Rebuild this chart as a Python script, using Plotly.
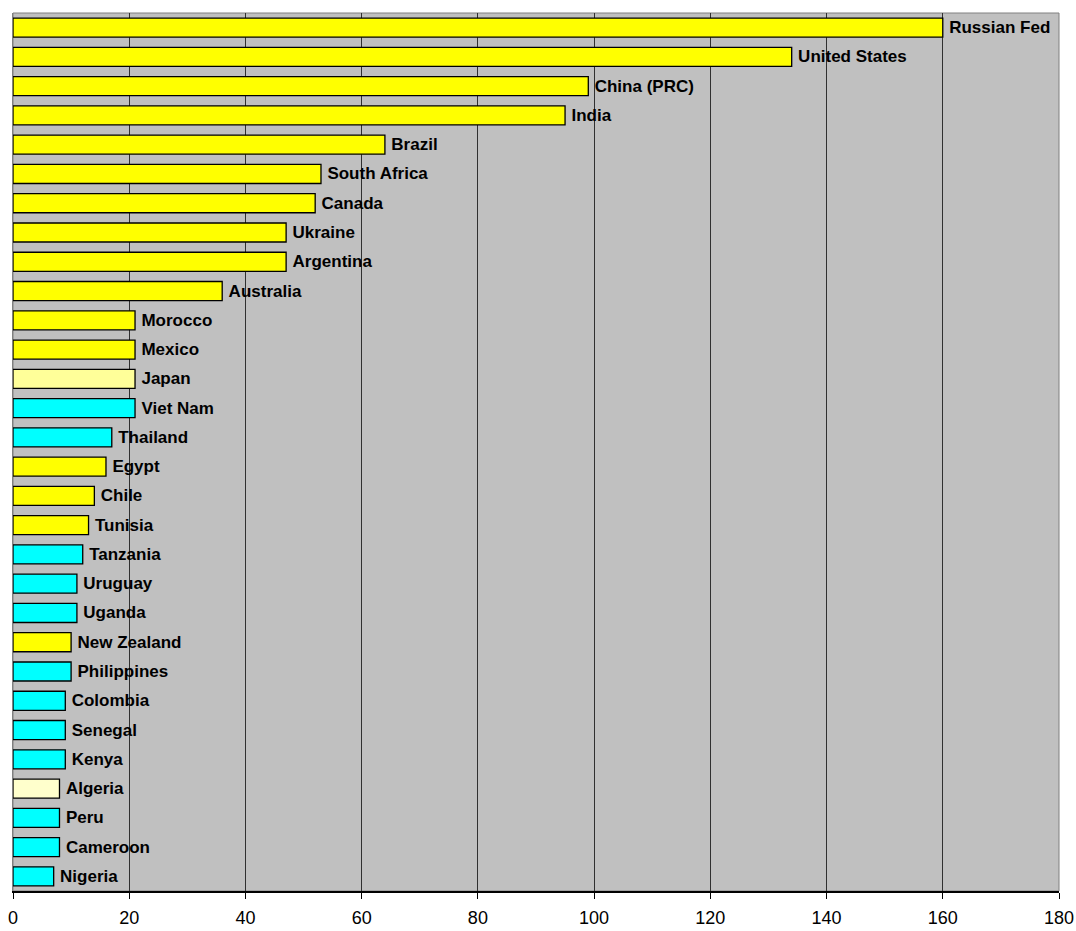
import plotly.graph_objects as go

countries = ["Russian Fed", "United States", "China (PRC)", "India", "Brazil", "South Africa",
             "Canada", "Ukraine", "Argentina", "Australia", "Morocco", "Mexico", "Japan",
             "Viet Nam", "Thailand", "Egypt", "Chile", "Tunisia", "Tanzania", "Uruguay",
             "Uganda", "New Zealand", "Philippines", "Colombia", "Senegal", "Kenya",
             "Algeria", "Peru", "Cameroon", "Nigeria"]
values = [160, 134, 99, 95, 64, 53, 52, 47, 47, 36, 21, 21, 21, 21, 17, 16, 14, 13, 12, 11,
          11, 10, 10, 9, 9, 9, 8, 8, 8, 7]
groups = ["Y", "Y", "Y", "Y", "Y", "Y", "Y", "Y", "Y", "Y", "Y", "Y", "L", "C", "C", "Y", "Y",
          "Y", "C", "C", "C", "Y", "C", "C", "C", "C", "P", "C", "C", "C"]
group_colors = {"Y": "#FFFF00", "L": "#FFFF99", "P": "#FFFFCC", "C": "#00FFFF"}
x_ticks = [0, 20, 40, 60, 80, 100, 120, 140, 160, 180]

fig = go.Figure(go.Bar(
    x=values,
    y=countries,
    orientation="h",
    marker=dict(color=[group_colors[g] for g in groups], line=dict(color="#000000", width=1.3)),
    text=countries,
    texttemplate="\u2009%{text}",
    textposition="outside",
    textangle=0,
    cliponaxis=False,
    textfont=dict(family="Liberation Sans Narrow, Liberation Sans, Arial", size=17, color="#000000", weight="bold"),
    hoverinfo="x+y",
))

fig.update_layout(
    width=1076, height=931,
    margin=dict(l=13, r=17, t=13, b=40, autoexpand=False),
    paper_bgcolor="#FFFFFF",
    plot_bgcolor="#C0C0C0",
    bargap=0.35,
    showlegend=False,
    font=dict(family="Liberation Sans, Arial", color="#000000"),
    xaxis=dict(range=[0, 180], tickvals=x_ticks, showgrid=True, gridcolor="#303030", gridwidth=1,
               zeroline=False, showline=True, linecolor="#000000", linewidth=1.5,
               ticks="outside", ticklen=6, tickcolor="#000000", ticklabelstandoff=4,
               automargin=False, ticklabeloverflow="allow",
               tickfont=dict(family="Liberation Sans Narrow, Liberation Sans, Arial", size=18, color="#000000"),
               mirror=False),
    yaxis=dict(autorange="reversed", showticklabels=False, showgrid=False, zeroline=False,
               showline=True, linecolor="#808080", linewidth=1, ticks="", automargin=False),
)
fig.add_shape(type="rect", xref="paper", yref="paper", x0=0, y0=0, x1=1, y1=1,
              line=dict(color="#808080", width=1), layer="below")

fig.write_html("out.html", config={"displayModeBar": False},
               post_script="document.body.style.margin='0';document.body.style.overflow='hidden';")
